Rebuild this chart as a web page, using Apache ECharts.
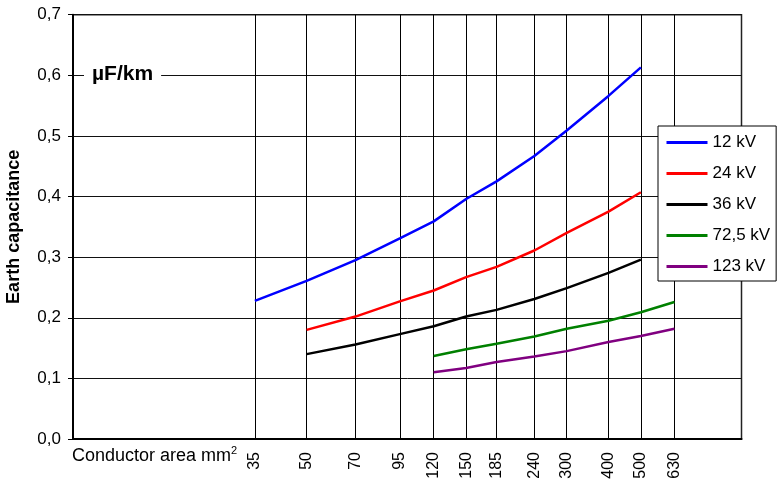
<!DOCTYPE html>
<html>
<head>
<meta charset="utf-8">
<script src="https://cdn.jsdelivr.net/npm/echarts@6/dist/echarts.min.js"></script>
<style>
  html, body { margin: 0; padding: 0; background: #fff; }
  #main { width: 779px; height: 483px; }
</style>
</head>
<body>
<div id="main"></div>
<script>
// conductor cross sections (mm2), on a log axis
var sizes = [35, 50, 70, 95, 120, 150, 185, 240, 300, 400, 500, 630];
// earth capacitance, uF/km
var kv12  = [0.228, 0.261, 0.295, 0.331, 0.359, 0.396, 0.425, 0.467, 0.509, 0.566, 0.613, null];
var kv24  = [null, 0.180, 0.202, 0.227, 0.245, 0.267, 0.284, 0.311, 0.340, 0.375, 0.407, null];
var kv36  = [null, 0.140, 0.156, 0.173, 0.186, 0.202, 0.213, 0.231, 0.249, 0.274, 0.296, null];
var kv72  = [null, null, null, null, 0.137, 0.148, 0.157, 0.169, 0.182, 0.195, 0.209, 0.226];
var kv123 = [null, null, null, null, 0.110, 0.117, 0.127, 0.136, 0.145, 0.160, 0.170, 0.182];
var yTicks = [0, 0.1, 0.2, 0.3, 0.4, 0.5, 0.6, 0.7];

var font = 'Arial, "Liberation Sans", sans-serif';

function pairs(vals) {
    var out = [];
    for (var i = 0; i < sizes.length; i++) {
        if (vals[i] != null) out.push([sizes[i], vals[i]]);
    }
    return out;
}

function line(name, vals, color) {
    return {
        name: name,
        type: 'line',
        data: pairs(vals),
        symbol: 'none',
        silent: true,
        lineStyle: { color: color, width: 2.5 },
        itemStyle: { color: color }
    };
}

var myChart = echarts.init(document.getElementById('main'));
var option = {
    animation: false,
    textStyle: { fontFamily: font },
    grid: {
        left: 73, right: 37.5, top: 14.7, bottom: 44,
        outerBoundsMode: 'none',
        containLabel: false,
        show: true, borderColor: '#222', borderWidth: 1.5
    },
    legend: {
        orient: 'vertical',
        left: 658, top: 126,
        backgroundColor: '#fff',
        borderColor: '#000', borderWidth: 1,
        padding: [8, 6, 6, 7],
        itemWidth: 41, itemHeight: 14, itemGap: 14,
        itemStyle: { opacity: 0 },
        lineStyle: { width: 3 },
        textStyle: { fontSize: 17, color: '#000', fontFamily: font },
        data: ['12 kV', '24 kV', '36 kV', '72,5 kV', '123 kV']
    },
    xAxis: {
        type: 'log',
        logBase: 10,
        min: 10, max: 1000,
        axisLine: { lineStyle: { color: '#000', width: 2 } },
        axisTick: { show: false, customValues: sizes },
        axisLabel: {
            customValues: sizes,
            rotate: 90,
            margin: 13,
            fontSize: 16,
            color: '#000',
            fontFamily: font
        },
        splitLine: { show: true, lineStyle: { color: '#000', width: 1 } },
        minorTick: { show: false },
        minorSplitLine: { show: false }
    },
    yAxis: {
        type: 'value',
        min: 0, max: 0.7, interval: 0.1,
        name: 'Earth capacitance',
        nameLocation: 'middle',
        nameGap: 50,
        nameTextStyle: { fontSize: 18, fontWeight: 'bold', color: '#000', fontFamily: font },
        axisLine: { show: true, lineStyle: { color: '#000', width: 2 } },
        axisTick: { show: true, length: 5, lineStyle: { color: '#000' } },
        axisLabel: {
            margin: 12,
            fontSize: 17,
            color: '#000',
            fontFamily: font,
            formatter: function (v) {
                var t = yTicks.find(function (k) { return Math.abs(k - v) < 1e-9; });
                return (t != null ? t : v).toFixed(1).replace('.', ',');
            }
        },
        splitLine: { show: true, lineStyle: { color: '#111', width: 1 } }
    },
    graphic: [
        {
            type: 'text',
            left: 84, top: 62,
            z: 100,
            style: {
                text: 'µF/km',
                font: 'bold 21px ' + font,
                fill: '#000',
                backgroundColor: '#fff',
                padding: [2, 8, 2, 8]
            }
        },
        {
            type: 'text',
            left: 72, top: 445,
            style: {
                text: '{a|Conductor area mm}{s|2}',
                fill: '#000',
                rich: {
                    a: { fontSize: 18, fontFamily: font, fill: '#000', verticalAlign: 'bottom' },
                    s: { fontSize: 11, fontFamily: font, fill: '#000', verticalAlign: 'top', padding: [0, 0, 9, 0] }
                }
            }
        }
    ],
    series: [
        line('12 kV', kv12, '#0000ff'),
        line('24 kV', kv24, '#ff0000'),
        line('36 kV', kv36, '#000000'),
        line('72,5 kV', kv72, '#008000'),
        line('123 kV', kv123, '#800080')
    ]
};
option && myChart.setOption(option);
</script>
</body>
</html>
